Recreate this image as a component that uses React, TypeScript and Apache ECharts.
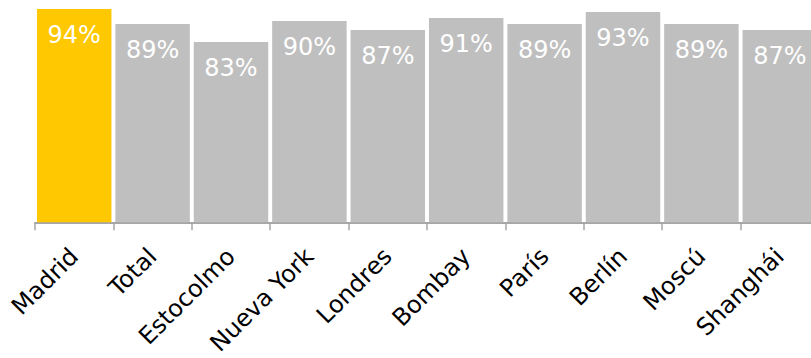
import React, { useEffect, useRef } from "react";
import * as echarts from "echarts";

const categories = ["Madrid", "Total", "Estocolmo", "Nueva York", "Londres", "Bombay", "París", "Berlín", "Moscú", "Shanghái"];
const values = [94, 89, 83, 90, 87, 91, 89, 93, 89, 87];
const highlightCategory = "Madrid";

export default function App() {
  const ref = useRef<HTMLDivElement>(null);
  useEffect(() => {
    if (!ref.current) return;
    const chart = echarts.init(ref.current, null, { renderer: "svg" });
    chart.setOption({
      animation: false,
      backgroundColor: "#ffffff",
      textStyle: { fontFamily: "DejaVu Sans" },
      grid: { left: 35, top: 3, width: 784, height: 221, containLabel: false },
      xAxis: {
        type: "category",
        data: categories,
        axisLine: { show: true, lineStyle: { color: "#a6a6a6", width: 2 } },
        axisTick: { show: true, length: 8, lineStyle: { color: "#a6a6a6", width: 1.5 } },
        axisLabel: {
          rotate: 45,
          margin: 30,
          color: "#000000",
          fontSize: 24,
          fontFamily: "DejaVu Sans",
          interval: 0,
        },
      },
      yAxis: {
        type: "value",
        min: 23,
        max: 96,
        show: false,
        splitLine: { show: false },
      },
      series: [
        {
          type: "bar",
          barCategoryGap: "5%",
          data: values.map((v, i) => ({
            value: v,
            itemStyle: { color: categories[i] === highlightCategory ? "#ffc800" : "#bfbfbf" },
          })),
          label: {
            show: true,
            position: "insideTop",
            distance: 14,
            color: "#ffffff",
            fontSize: 24,
            fontFamily: "DejaVu Sans",
            formatter: (p: any) => p.value + "%",
          },
        },
      ],
    });
    return () => chart.dispose();
  }, []);
  return <div ref={ref} style={{ position: "fixed", left: 0, top: 0, width: 830, height: 358 }} />;
}
